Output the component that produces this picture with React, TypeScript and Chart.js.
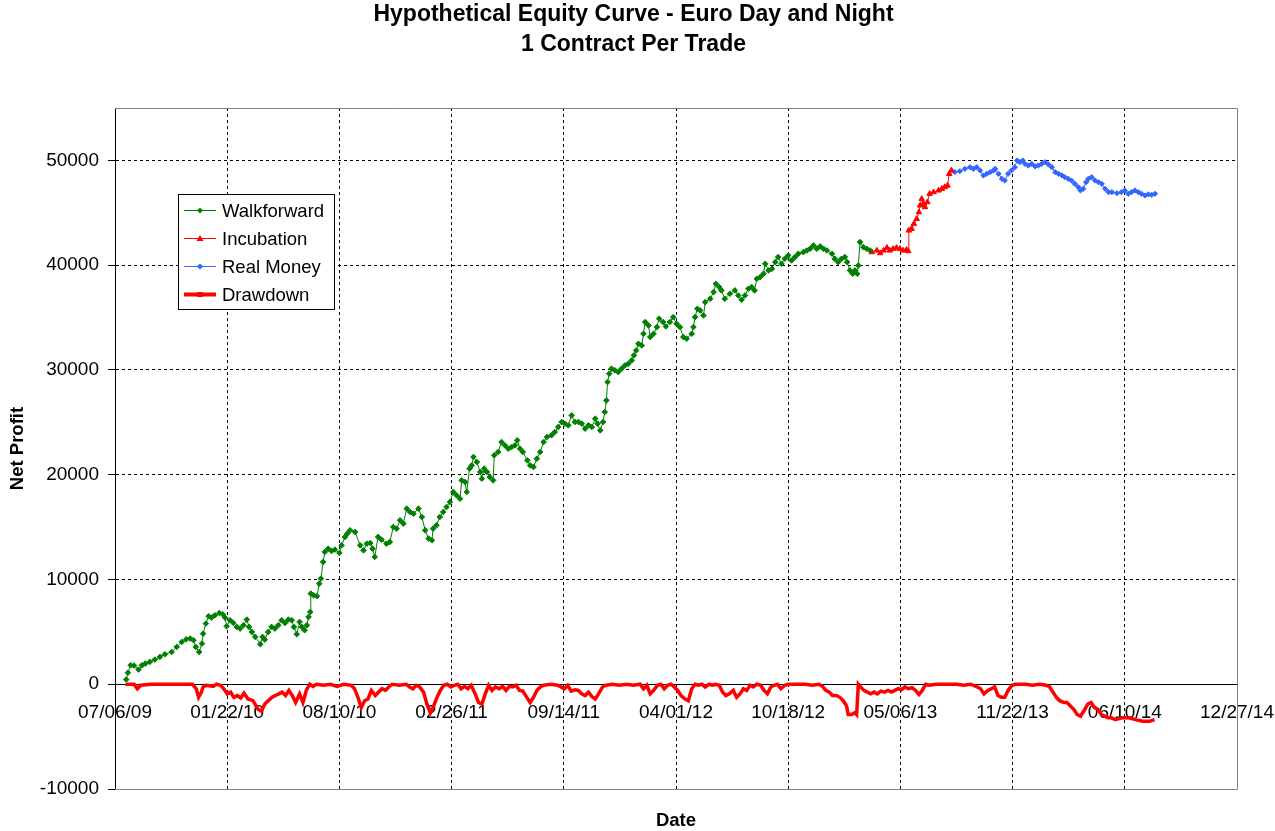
import { useEffect, useRef } from 'react';
import { Chart, registerables } from 'chart.js';
import type { Plugin, ChartConfiguration } from 'chart.js';

Chart.register(...registerables);

// x tick labels, one every 200 days starting 07/06/09
const tickLabels = [
	'07/06/09', '01/22/10', '08/10/10', '02/26/11', '09/14/11', '04/01/12',
	'10/18/12', '05/06/13', '11/22/13', '06/10/14', '12/27/14',
];
const yTickValues = [-10000, 0, 10000, 20000, 30000, 40000, 50000];

// all x values are days since 07/06/09
const walkforwardDays = [
	20, 23, 28, 34, 42, 48, 54, 62, 71, 80, 89, 101, 110, 119, 127, 134, 140, 144, 150, 155,
	157, 162, 167, 172, 178, 186, 192, 196, 199, 205, 211, 217, 223, 229, 235, 239, 244, 250, 259, 263,
	267, 273, 279, 285, 291, 297, 303, 309, 315, 319, 324, 329, 333, 338, 342, 345, 348, 349, 354, 360,
	364, 367, 371, 374, 380, 386, 392, 400, 404, 410, 414, 419, 428, 437, 443, 449, 455, 459, 463, 469,
	475, 484, 490, 496, 502, 508, 514, 520, 526, 532, 541, 547, 553, 559, 565, 567, 573, 579, 585, 591,
	597, 603, 609, 615, 618, 624, 627, 632, 636, 639, 645, 651, 654, 658, 663, 668, 674, 676, 683, 689,
	695, 701, 707, 713, 717, 722, 727, 735, 740, 746, 752, 758, 764, 770, 778, 784, 790, 796, 802, 808,
	814, 820, 826, 832, 838, 844, 850, 856, 860, 865, 870, 873, 876, 878, 881, 885, 891, 897, 903, 909,
	915, 921, 925, 929, 933, 939, 942, 945, 951, 954, 960, 966, 970, 977, 982, 989, 995, 1001, 1007, 1013,
	1019, 1028, 1031, 1034, 1038, 1043, 1049, 1052, 1061, 1067, 1071, 1077, 1081, 1087, 1096, 1105, 1111, 1117, 1123, 1129,
	1135, 1140, 1144, 1150, 1156, 1159, 1165, 1171, 1177, 1182, 1188, 1194, 1200, 1206, 1212, 1218, 1227, 1233, 1239, 1245,
	1251, 1257, 1263, 1269, 1278, 1283, 1289, 1295, 1301, 1305, 1310, 1315, 1319, 1323, 1325, 1328, 1334, 1340, 1346,
];
const walkforwardProfit = [
	450, 1100, 1810, 1780, 1400, 1810, 1970, 2130, 2350, 2610, 2860, 3080, 3560, 4040, 4290, 4360, 4200, 3560, 3080, 3880,
	4830, 5790, 6490, 6360, 6580, 6800, 6680, 6360, 5530, 6110, 5850, 5470, 5310, 5630, 6170, 5470, 4990, 4520, 3820, 4520,
	4260, 4990, 5470, 5310, 5630, 6110, 5850, 6170, 6110, 5470, 4770, 5950, 5470, 5150, 5630, 6420, 6900, 8650, 8490, 8400,
	9600, 10080, 11670, 12630, 12940, 12720, 12850, 12530, 13260, 14060, 14370, 14690, 14530, 13260, 12780, 13420, 13480, 12940, 12150, 14060,
	13800, 13420, 13580, 15010, 14850, 15650, 15330, 16760, 16440, 16280, 16760, 15960, 14690, 13900, 13740, 14850, 15170, 15960, 16440, 16920,
	17400, 18350, 18030, 17710, 19460, 19300, 18350, 20580, 20890, 21690, 21210, 20260, 19620, 20580, 20260, 19780, 19460, 21850, 22170, 23120,
	22800, 22480, 22640, 22800, 23280, 22480, 22170, 21370, 20890, 20730, 21530, 22170, 23120, 23600, 23760, 24070, 24550, 25030, 24870, 24710,
	25660, 25030, 25030, 24870, 24390, 24710, 24550, 25350, 24870, 24230, 25030, 25980, 27090, 28840, 29640, 30120, 29960, 29800, 30120, 30430,
	30590, 30910, 31390, 31860, 32500, 32340, 33450, 34570, 34250, 33140, 33450, 34090, 34890, 34570, 34150, 34570, 35040, 34410, 34090, 33140,
	32980, 33450, 34090, 35040, 35840, 35680, 35200, 36470, 36790, 37430, 38220, 37910, 37590, 36790, 37270, 37590, 37110, 36700, 37110, 37750,
	37910, 37590, 38700, 38860, 39180, 40130, 39500, 39650, 40290, 40770, 40130, 40610, 40930, 40450, 40770, 41090, 41240, 41400, 41560, 41880,
	41560, 41790, 41560, 41400, 41090, 40610, 40290, 40610, 40770, 40290, 39500, 39180, 39500, 39180, 39970, 42200, 41720, 41560, 41400,
];

const incubationDays = [
	1349, 1358, 1364, 1370, 1376, 1381, 1387, 1393, 1399, 1405, 1411, 1414, 1415, 1420, 1424,
	1429, 1433, 1435, 1438, 1441, 1444, 1448, 1452, 1459, 1468, 1474, 1479, 1484, 1487, 1491,
];
const incubationProfit = [
	41240, 41400, 41150, 41400, 41660, 41400, 41560, 41660, 41560, 41400, 41470, 41340, 43310, 43470, 43950,
	44420, 45060, 45700, 46330, 45860, 45540, 46010, 46810, 46970, 47130, 47290, 47450, 47600, 48720, 49040,
];

const realMoneyDays = [
	1497, 1506, 1515, 1524, 1530, 1536, 1542, 1548, 1554, 1560, 1566, 1569, 1575, 1581, 1586, 1592,
	1598, 1604, 1608, 1613, 1618, 1622, 1628, 1634, 1640, 1646, 1652, 1658, 1664, 1670, 1676, 1682,
	1688, 1693, 1699, 1705, 1711, 1717, 1721, 1726, 1731, 1735, 1741, 1747, 1753, 1759, 1765, 1771,
	1777, 1786, 1794, 1800, 1806, 1812, 1818, 1824, 1830, 1836, 1842, 1848, 1854,
];
const realMoneyProfit = [
	48880, 48970, 49190, 49350, 49190, 49350, 49040, 48560, 48720, 48880, 49040, 49190, 48720, 48240, 48080, 48720,
	49040, 49350, 49990, 49830, 49990, 49670, 49510, 49670, 49420, 49510, 49670, 49830, 49610, 49350, 48880, 48720,
	48560, 48400, 48240, 48080, 47760, 47450, 47130, 47290, 47920, 48240, 48400, 48080, 47920, 47760, 47290, 46970,
	46970, 46870, 46970, 47130, 46810, 46970, 47130, 46970, 46810, 46650, 46750, 46710, 46810,
];

const drawdownDays = [
	19, 34, 40, 46, 65, 114, 138, 145, 149, 154, 157, 163, 175, 181, 188, 194, 200, 206, 212, 218,
	224, 230, 237, 246, 255, 261, 267, 273, 280, 286, 292, 298, 304, 310, 316, 322, 329, 335, 341, 347,
	353, 359, 372, 384, 396, 408, 421, 427, 433, 439, 445, 451, 457, 464, 470, 476, 482, 488, 494, 507,
	519, 525, 531, 537, 543, 550, 556, 562, 568, 574, 580, 586, 592, 599, 605, 611, 617, 623, 629, 635,
	642, 648, 654, 660, 666, 672, 678, 685, 691, 697, 703, 709, 715, 721, 727, 734, 740, 746, 752, 758,
	764, 777, 789, 801, 807, 813, 820, 826, 832, 838, 844, 850, 856, 862, 869, 875, 887, 899, 912, 924,
	936, 942, 948, 954, 960, 967, 973, 979, 985, 991, 997, 1003, 1009, 1016, 1022, 1028, 1034, 1040, 1046, 1052,
	1059, 1065, 1071, 1077, 1083, 1089, 1095, 1102, 1108, 1114, 1120, 1126, 1132, 1138, 1144, 1151, 1157, 1163, 1169, 1175,
	1181, 1187, 1194, 1200, 1206, 1218, 1230, 1243, 1255, 1261, 1267, 1273, 1279, 1286, 1292, 1298, 1304, 1307, 1313, 1319,
	1322, 1325, 1329, 1335, 1341, 1347, 1353, 1359, 1365, 1372, 1378, 1384, 1390, 1396, 1402, 1408, 1414, 1421, 1427, 1433,
	1439, 1445, 1451, 1464, 1476, 1488, 1500, 1513, 1525, 1537, 1543, 1549, 1556, 1562, 1568, 1574, 1580, 1586, 1592, 1599,
	1605, 1611, 1623, 1635, 1648, 1660, 1666, 1672, 1678, 1684, 1691, 1697, 1703, 1709, 1715, 1721, 1727, 1734, 1740, 1746,
	1752, 1758, 1764, 1770, 1776, 1783, 1795, 1807, 1819, 1832, 1844, 1853,
];
const drawdownValues = [
	0, 0, -430, -100, 0, 0, 0, -430, -1250, -750, -260, -100, -200, 0, -100, -430, -920, -750, -1250, -1080,
	-1310, -850, -1410, -1570, -2390, -2560, -1900, -1570, -1250, -1080, -920, -750, -1080, -590, -1080, -1740, -920, -1740, -590, 0,
	-200, 0, -100, 0, -200, 0, -100, -430, -1250, -2230, -1570, -1410, -590, -1080, -750, -430, -590, -260, 0, -100,
	0, -260, -430, -100, -260, -750, -1900, -2720, -2070, -1250, -590, -100, 0, -260, -100, 0, -430, -200, -430, -100,
	-920, -1740, -1900, -920, -100, -590, -260, -430, -200, -590, -200, -260, -100, -590, -660, -1250, -1740, -1250, -590, -260,
	-100, 0, -100, -430, -100, -660, -530, -590, -920, -1080, -750, -1180, -1410, -920, -260, -100, 0, -100, 0, -100,
	0, -430, -100, -920, -590, -100, 0, -430, -100, 0, -260, -590, -1080, -1410, -1570, -430, 0, -100, 0, -260,
	0, -100, 0, -100, -750, -1080, -920, -590, -1250, -920, -430, -590, -100, -260, 0, -100, -590, -920, -260, -100,
	0, -430, -100, 0, 0, 0, 0, -100, 0, -200, -590, -750, -1080, -1080, -1250, -1570, -2070, -2890, -2890, -2720,
	-2890, 0, -260, -590, -750, -920, -750, -920, -660, -750, -590, -750, -590, -430, -530, -260, -430, -330, -590, -980,
	-590, 0, -100, 0, 0, 0, 0, -100, 0, -260, -430, -920, -590, -430, -260, -1080, -1250, -1250, -590, -100,
	0, 0, 0, -100, 0, -100, -260, -750, -1250, -1570, -1740, -1740, -2070, -2390, -2890, -3050, -2560, -1900, -1740, -2230,
	-2390, -2890, -3050, -3210, -3210, -3380, -3210, -3210, -3380, -3540, -3540, -3380,
];

const GREEN = '#008000';
const RED = '#ff0000';
const BLUE = '#3366ff';
const FONT = 'Arial, "Liberation Sans", sans-serif';

const toPoints = (xs: number[], ys: number[]) => xs.map((x, i) => ({ x, y: ys[i] }));

// gray frame on the top, right and bottom of the plot area, like Excel
const plotFrame: Plugin<'line'> = {
	id: 'plotFrame',
	beforeDatasetsDraw(chart) {
		const { ctx, chartArea } = chart;
		const { left, right, top, bottom } = chartArea;
		ctx.save();
		ctx.strokeStyle = '#808080';
		ctx.lineWidth = 1;
		ctx.beginPath();
		ctx.moveTo(left, Math.round(top) + 0.5);
		ctx.lineTo(Math.round(right) + 0.5, Math.round(top) + 0.5);
		ctx.lineTo(Math.round(right) + 0.5, Math.round(bottom) + 0.5);
		ctx.lineTo(left, Math.round(bottom) + 0.5);
		ctx.stroke();
		ctx.restore();
	},
};

// legend box drawn inside the plot area
const markers = ['diamond', 'triangle', 'diamond', 'square'];
const boxLegend: Plugin<'line'> = {
	id: 'boxLegend',
	afterDraw(chart) {
		const { ctx, chartArea } = chart;
		const x = chartArea.left + 63;
		const y = chartArea.top + 86;
		const w = 156;
		const h = 115;
		ctx.save();
		ctx.fillStyle = '#fff';
		ctx.fillRect(x, y, w, h);
		ctx.strokeStyle = '#000';
		ctx.lineWidth = 1;
		ctx.strokeRect(x + 0.5, y + 0.5, w, h);
		ctx.font = `18.5px ${FONT}`;
		ctx.textBaseline = 'middle';
		chart.data.datasets.forEach((ds, i) => {
			const cy = y + 16.5 + i * 28;
			const color = ds.borderColor as string;
			ctx.strokeStyle = color;
			ctx.fillStyle = color;
			ctx.lineWidth = i === 3 ? 4 : 1;
			ctx.beginPath();
			ctx.moveTo(x + 6, cy);
			ctx.lineTo(x + 38, cy);
			ctx.stroke();
			const mx = x + 22;
			ctx.beginPath();
			if (markers[i] === 'diamond') {
				ctx.moveTo(mx, cy - 3);
				ctx.lineTo(mx + 3, cy);
				ctx.lineTo(mx, cy + 3);
				ctx.lineTo(mx - 3, cy);
			} else if (markers[i] === 'triangle') {
				ctx.moveTo(mx, cy - 3.5);
				ctx.lineTo(mx + 3.5, cy + 2.5);
				ctx.lineTo(mx - 3.5, cy + 2.5);
			} else {
				ctx.rect(mx - 2.5, cy - 2.5, 5, 5);
			}
			ctx.closePath();
			ctx.fill();
			ctx.fillStyle = '#000';
			ctx.fillText(ds.label ?? '', x + 44, cy + 1);
		});
		ctx.restore();
	},
};

const App = () => {
	const canvasRef = useRef<HTMLCanvasElement | null>(null);

	useEffect(() => {
		document.body.style.margin = '0';
		const canvas = canvasRef.current;
		if (!canvas) return;

		Chart.defaults.font.family = FONT;
		Chart.defaults.color = '#000';

		const config: ChartConfiguration<'line'> = {
			type: 'line',
			data: {
				datasets: [
					{
						label: 'Walkforward',
						data: toPoints(walkforwardDays, walkforwardProfit),
						borderColor: GREEN,
						backgroundColor: GREEN,
						borderWidth: 1,
						pointStyle: 'rectRot',
						pointRadius: 2.8,
						pointBorderWidth: 1,
					},
					{
						label: 'Incubation',
						data: toPoints(incubationDays, incubationProfit),
						borderColor: RED,
						backgroundColor: RED,
						borderWidth: 1,
						pointStyle: 'triangle',
						pointRadius: 3.2,
						pointBorderWidth: 1,
					},
					{
						label: 'Real Money',
						data: toPoints(realMoneyDays, realMoneyProfit),
						borderColor: BLUE,
						backgroundColor: BLUE,
						borderWidth: 1,
						pointStyle: 'rectRot',
						pointRadius: 2.6,
						pointBorderWidth: 1,
					},
					{
						label: 'Drawdown',
						data: toPoints(drawdownDays, drawdownValues),
						borderColor: RED,
						backgroundColor: RED,
						borderWidth: 3.5,
						borderJoinStyle: 'miter',
						pointRadius: 0,
					},
				],
			},
			options: {
				animation: false,
				responsive: true,
				maintainAspectRatio: false,
				events: [],
				// right padding 8 + spacer axis 30 keeps the title centred like the original
				layout: { padding: { left: 0, right: 8, top: 0, bottom: 0 } },
				elements: { line: { tension: 0 } },
				scales: {
					x: {
						type: 'linear',
						position: { y: 0 },
						min: 0,
						max: 2000,
						afterBuildTicks: (scale) => {
							scale.ticks = tickLabels.map((_, i) => ({ value: i * 200 }));
						},
						afterFit: (scale) => {
							scale.paddingLeft = 0;
							scale.paddingRight = 0;
						},
						ticks: {
							autoSkip: false,
							maxRotation: 0,
							padding: 17,
							font: { size: 19 },
							callback: (v) => tickLabels[Math.round(Number(v) / 200)] ?? '',
						},
						grid: {
							color: (c) => (c.tick && (c.tick.value === 0 || c.tick.value === 2000) ? 'rgba(0,0,0,0)' : '#000'),
							lineWidth: 1,
							drawTicks: false,
						},
						border: { color: '#000', width: 1, dash: [3, 3] },
					},
					// bottom axis only carries the "Date" title
					xTitle: {
						type: 'linear',
						axis: 'x',
						position: 'bottom',
						min: 0,
						max: 2000,
						ticks: { display: false },
						grid: { display: false, drawTicks: false },
						border: { display: false },
						afterFit: (scale) => {
							scale.paddingLeft = 0;
							scale.paddingRight = 0;
						},
						title: {
							display: true,
							text: 'Date',
							font: { size: 18.5, weight: 'bold', lineHeight: '20px' },
							padding: { top: 22, bottom: 0 },
						},
					},
					y: {
						type: 'linear',
						min: -10000,
						max: 55000,
						afterBuildTicks: (scale) => {
							scale.ticks = yTickValues.map((value) => ({ value }));
						},
						afterFit: (scale) => {
							scale.width = 115;
							scale.paddingTop = 0;
							scale.paddingBottom = 0;
						},
						ticks: {
							padding: 9,
							font: { size: 19 },
							callback: (v) => String(v),
						},
						grid: {
							color: (c) => (c.tick && c.tick.value === -10000 ? 'rgba(0,0,0,0)' : '#000'),
							lineWidth: 1,
							drawTicks: true,
							tickLength: 7,
							tickColor: '#000',
							tickBorderDash: [],
						},
						border: { color: '#000', width: 1, dash: [3, 3] },
						title: {
							display: true,
							text: 'Net Profit',
							font: { size: 18.5, weight: 'bold' },
							padding: { top: 7, bottom: 0 },
						},
					},
					ySpacer: {
						type: 'linear',
						axis: 'y',
						position: 'right',
						min: 0,
						max: 1,
						ticks: { display: false },
						grid: { display: false, drawTicks: false },
						border: { display: false },
						afterFit: (scale) => {
							scale.width = 30;
							scale.paddingTop = 0;
							scale.paddingBottom = 0;
						},
					},
				},
				plugins: {
					legend: { display: false },
					tooltip: { enabled: false },
					title: {
						display: true,
						text: ['Hypothetical Equity Curve - Euro Day and Night', '1 Contract Per Trade'],
						font: { size: 23, weight: 'bold', lineHeight: '30px' },
						color: '#000',
						padding: { top: 0, bottom: 48 },
					},
				},
			},
			plugins: [plotFrame, boxLegend],
		};

		const chart = new Chart(canvas, config);
		return () => chart.destroy();
	}, []);

	return (
		<div style={{ position: 'relative', width: 1275, height: 831, background: '#fff' }}>
			<canvas ref={canvasRef}></canvas>
		</div>
	);
};

export default App;
